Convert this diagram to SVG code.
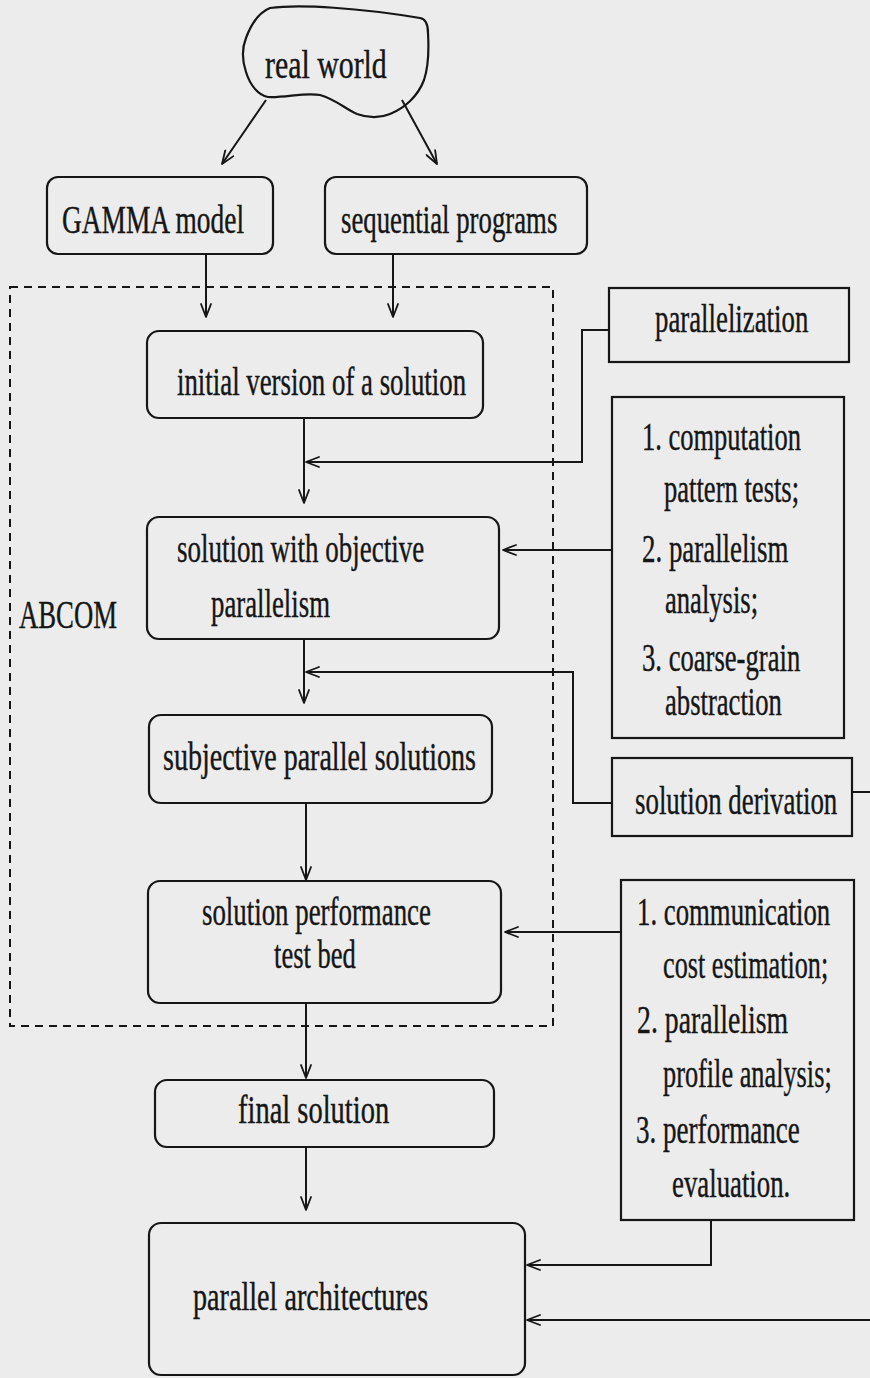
<svg xmlns="http://www.w3.org/2000/svg" width="870" height="1378" viewBox="0 0 870 1378">
  <defs>
    <marker id="arrow" viewBox="0 0 15 12" refX="14" refY="6" markerWidth="15" markerHeight="12" markerUnits="userSpaceOnUse" orient="auto">
      <path d="M1,1 L14,6 L1,11" fill="none" stroke="#161616" stroke-width="1.8" stroke-linecap="round" stroke-linejoin="round"/>
    </marker>
    <style>
      .box { fill: none; stroke: #161616; stroke-width: 2.2; }
      .frame { fill: none; stroke: #161616; stroke-width: 2; stroke-dasharray: 8 6; }
      .wire { fill: none; stroke: #161616; stroke-width: 2; }
      .arr { fill: none; stroke: #161616; stroke-width: 2; marker-end: url(#arrow); }
      text { font-family: "Liberation Serif", "Times New Roman", serif; font-size: 39px; fill: #161616; stroke: #161616; stroke-width: 0.4; }
    </style>
  </defs>

  <rect x="0" y="0" width="870" height="1378" fill="#ececec"/>

  <!-- dashed ABCOM frame; labels use a condensed serif (x scaled by 0.7) -->
  <g id="abcom-frame">
    <rect class="frame" x="10" y="287" width="543" height="739"/>
    <text transform="translate(19 628) scale(0.7 1)" textLength="140" lengthAdjust="spacingAndGlyphs">ABCOM</text>
  </g>

  <!-- connectors -->
  <g id="connectors">
    <path class="arr" d="M266,100 L222,164"/>
    <path class="arr" d="M402,100 L437,164"/>
    <path class="arr" d="M206,254 L206,317"/>
    <path class="arr" d="M393,254 L393,317"/>
    <path class="arr" d="M609,330 L582,330 L582,462 L306,462"/>
    <path class="arr" d="M304,418 L304,503"/>
    <path class="arr" d="M612,550 L503,550"/>
    <path class="arr" d="M304,639 L304,703"/>
    <path class="arr" d="M612,803 L573,803 L573,672 L306,672"/>
    <path class="wire" d="M852,792 L870,792"/>
    <path class="arr" d="M306,803 L306,880"/>
    <path class="arr" d="M621,932 L505,932"/>
    <path class="arr" d="M306,1003 L306,1078"/>
    <path class="arr" d="M306,1147 L306,1210"/>
    <path class="arr" d="M711,1220 L711,1265 L527,1265"/>
    <path class="arr" d="M870,1320 L527,1320"/>
  </g>

  <g id="real-world">
    <path class="box" d="M270,8 C300,4 360,8 420,18 C426,19 428,24 428,33 C429,50 428,68 424,80 C418,96 405,108 390,114 C378,119 368,118 357,114 C345,109 337,100 320,95 C305,92 285,98 268,97 C258,95 250,85 246,72 C242,60 242,48 246,38 C252,22 260,12 270,8 Z"/>
    <text transform="translate(265 78) scale(0.7 1)" textLength="174" lengthAdjust="spacingAndGlyphs">real world</text>
  </g>

  <g id="gamma-model">
    <rect class="box" x="47" y="177" width="226" height="77" rx="11"/>
    <text transform="translate(62 233) scale(0.7 1)" textLength="260" lengthAdjust="spacingAndGlyphs">GAMMA model</text>
  </g>

  <g id="sequential-programs">
    <rect class="box" x="325" y="177" width="262" height="77" rx="11"/>
    <text transform="translate(341 233) scale(0.7 1)" textLength="309" lengthAdjust="spacingAndGlyphs">sequential programs</text>
  </g>

  <g id="parallelization">
    <rect class="box" x="609" y="288" width="240" height="74"/>
    <text transform="translate(655 332) scale(0.7 1)" textLength="219" lengthAdjust="spacingAndGlyphs">parallelization</text>
  </g>

  <g id="initial-version">
    <rect class="box" x="147" y="331" width="336" height="87" rx="12"/>
    <text transform="translate(177 395) scale(0.7 1)" textLength="413" lengthAdjust="spacingAndGlyphs">initial version of a solution</text>
  </g>

  <g id="computation-steps">
    <rect class="box" x="612" y="397" width="232" height="341"/>
    <text transform="translate(642 450) scale(0.7 1)" textLength="227" lengthAdjust="spacingAndGlyphs">1. computation</text>
    <text transform="translate(664 502) scale(0.7 1)" textLength="193" lengthAdjust="spacingAndGlyphs">pattern tests;</text>
    <text transform="translate(642 562) scale(0.7 1)" textLength="209" lengthAdjust="spacingAndGlyphs">2. parallelism</text>
    <text transform="translate(665 613) scale(0.7 1)" textLength="133" lengthAdjust="spacingAndGlyphs">analysis;</text>
    <text transform="translate(642 671) scale(0.7 1)" textLength="226" lengthAdjust="spacingAndGlyphs">3. coarse-grain</text>
    <text transform="translate(665 715) scale(0.7 1)" textLength="167" lengthAdjust="spacingAndGlyphs">abstraction</text>
  </g>

  <g id="objective-parallelism">
    <rect class="box" x="147" y="517" width="352" height="122" rx="12"/>
    <text transform="translate(177 562) scale(0.7 1)" textLength="353" lengthAdjust="spacingAndGlyphs">solution with objective</text>
    <text transform="translate(211 617) scale(0.7 1)" textLength="170" lengthAdjust="spacingAndGlyphs">parallelism</text>
  </g>

  <g id="subjective-solutions">
    <rect class="box" x="149" y="715" width="343" height="88" rx="12"/>
    <text transform="translate(163 770) scale(0.7 1)" textLength="447" lengthAdjust="spacingAndGlyphs">subjective parallel solutions</text>
  </g>

  <g id="solution-derivation">
    <rect class="box" x="612" y="758" width="240" height="78"/>
    <text transform="translate(635 814) scale(0.7 1)" textLength="289" lengthAdjust="spacingAndGlyphs">solution derivation</text>
  </g>

  <g id="performance-test-bed">
    <rect class="box" x="148" y="881" width="353" height="122" rx="12"/>
    <text transform="translate(202 925) scale(0.7 1)" textLength="327" lengthAdjust="spacingAndGlyphs">solution performance</text>
    <text transform="translate(274 968) scale(0.7 1)" textLength="117" lengthAdjust="spacingAndGlyphs">test bed</text>
  </g>

  <g id="communication-steps">
    <rect class="box" x="621" y="880" width="233" height="340"/>
    <text transform="translate(637 925) scale(0.7 1)" textLength="276" lengthAdjust="spacingAndGlyphs">1. communication</text>
    <text transform="translate(663 978) scale(0.7 1)" textLength="236" lengthAdjust="spacingAndGlyphs">cost estimation;</text>
    <text transform="translate(637 1033) scale(0.7 1)" textLength="216" lengthAdjust="spacingAndGlyphs">2.  parallelism</text>
    <text transform="translate(663 1087) scale(0.7 1)" textLength="241" lengthAdjust="spacingAndGlyphs">profile analysis;</text>
    <text transform="translate(636 1143) scale(0.7 1)" textLength="234" lengthAdjust="spacingAndGlyphs">3. performance</text>
    <text transform="translate(672 1197) scale(0.7 1)" textLength="169" lengthAdjust="spacingAndGlyphs">evaluation.</text>
  </g>

  <g id="final-solution">
    <rect class="box" x="155" y="1080" width="339" height="67" rx="12"/>
    <text transform="translate(238 1123) scale(0.7 1)" textLength="216" lengthAdjust="spacingAndGlyphs">final solution</text>
  </g>

  <g id="parallel-architectures">
    <rect class="box" x="149" y="1223" width="376" height="152" rx="12"/>
    <text transform="translate(193 1310) scale(0.7 1)" textLength="336" lengthAdjust="spacingAndGlyphs">parallel architectures</text>
  </g>
</svg>
